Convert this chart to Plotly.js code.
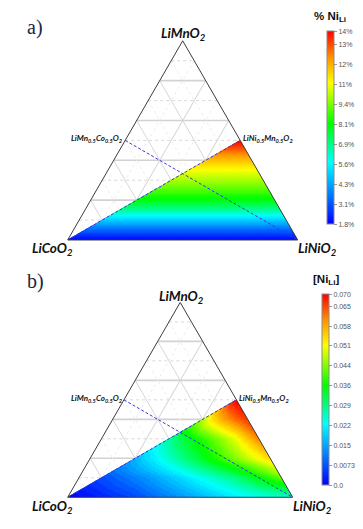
<!DOCTYPE html>
<html><head><meta charset="utf-8">
<script src="https://cdn.plot.ly/plotly-3.0.1.min.js"></script>
<style>html,body{margin:0;padding:0;background:#fff}#chart{width:363px;height:529px}</style>
</head><body><div id="chart"></div>
<script>
// ---------------- data ----------------
const vertexLabels = ['LiMnO<sub>2</sub>', 'LiCoO<sub>2</sub>', 'LiNiO<sub>2</sub>'];
const edgeLabels = ['LiMn<sub>0.5</sub>Co<sub>0.5</sub>O<sub>2</sub>', 'LiNi<sub>0.5</sub>Mn<sub>0.5</sub>O<sub>2</sub>'];
const panelLabels = ['a)', 'b)'];
const cbTitles = ['% Ni<sub>Li</sub>', '[Ni<sub>Li</sub>]'];

// panel a: % Ni_Li as a function of the LiMnO2 fraction (colour is uniform along rows)
const mnLevelsA = [0, 0.05, 0.1, 0.15, 0.2, 0.25, 0.3, 0.35, 0.4, 0.45, 0.5];
const niLiPctA  = [1.8, 3.3, 4.9, 6.6, 7.9, 8.9, 9.8, 10.6, 11.6, 12.8, 14.0];
const rangeA = [1.8, 14.0];
const tickValsA = [1.8, 3.06, 4.32, 5.59, 6.85, 8.11, 9.37, 10.64, 11.9, 13.16, 14.0];
const tickTextA = ['1.8%','3.1%','4.3%','5.6%','6.9%','8.1%','9.4%','11%','12%','13%','14%'];

// panel b: [Ni_Li] on rows of constant LiMnO2 fraction; columns = relative position t
// from the LiCoO2–LiNi0.5Mn0.5O2 line (t=0) to the Co-free edge (t=1)
const mnLevelsB = [0, 0.1, 0.2, 0.3, 0.4, 0.5];
const tLevelsB  = [0, 0.25, 0.5, 0.75, 1];
const niLiB_mn00 = [0.000, 0.005, 0.013, 0.021, 0.025];
const niLiB_mn01 = [0.0065, 0.013, 0.021, 0.029, 0.042];
const niLiB_mn02 = [0.016, 0.025, 0.034, 0.044, 0.054];
const niLiB_mn03 = [0.027, 0.035, 0.042, 0.050, 0.061];
const niLiB_mn04 = [0.046, 0.054, 0.059, 0.063, 0.066];
const niLiB_mn05 = [0.070, 0.070, 0.070, 0.070, 0.070];
const rangeB = [0, 0.070];
const tickValsB = [0, 0.00729, 0.01458, 0.02187, 0.02916, 0.03645, 0.04374, 0.05103, 0.05832, 0.06561, 0.070];
const tickTextB = ['0.0','0.0073','0.015','0.022','0.029','0.036','0.044','0.051','0.058','0.065','0.070'];

// ---------------- helpers ----------------
const gridB = [niLiB_mn00, niLiB_mn01, niLiB_mn02, niLiB_mn03, niLiB_mn04, niLiB_mn05];
const CS = [[0,[0,0,255]],[0.32,[0,255,255]],[0.52,[0,255,0]],[0.73,[255,255,0]],[0.86,[255,150,0]],[1,[255,0,0]]];
const plotlyCS = CS.map(s => [s[0], 'rgb(' + s[1].join(',') + ')']);
function csColor(f) {
  f = Math.max(0, Math.min(1, f));
  for (let i = 1; i < CS.length; i++) {
    if (f <= CS[i][0]) {
      const [f0, c0] = CS[i-1], [f1, c1] = CS[i];
      const u = (f - f0) / (f1 - f0);
      return 'rgb(' + c0.map((v, k) => Math.round(v + u * (c1[k] - v))).join(',') + ')';
    }
  }
  return 'rgb(255,0,0)';
}
function interp1(xs, ys, x) {
  if (x <= xs[0]) return ys[0];
  for (let i = 1; i < xs.length; i++) if (x <= xs[i]) {
    const u = (x - xs[i-1]) / (xs[i] - xs[i-1]); return ys[i-1] + u * (ys[i] - ys[i-1]);
  }
  return ys[ys.length - 1];
}
function valA(S, R) { return interp1(mnLevelsA, niLiPctA, 0.5 * R); }
function valB(S, R) {
  const m = 0.5 * R, t = R < 1 ? S / (1 - R) : 0;
  const rows = gridB.map(row => interp1(tLevelsB, row, t));
  return interp1(mnLevelsB, rows, m);
}
// region triangle: LiCoO2 -> LiNiO2 -> LiNi0.5Mn0.5O2 ; point (S,R): Ni=S+R/2, Mn=R/2, Co=1-S-R
function buildCells(N, fn, vr, nLev, subplot) {
  const G = Array.from({length: nLev}, () => ({a: [], b: [], c: []}));
  const push = (g, pts) => {
    pts.concat([pts[0]]).forEach(([s, r]) => {
      const S = s / N, R = r / N;
      g.a.push(0.5 * R); g.b.push(Math.max(0, 1 - S - R)); g.c.push(S + 0.5 * R);
    });
    g.a.push(null); g.b.push(null); g.c.push(null);
  };
  const lev = v => Math.max(0, Math.min(nLev - 1, Math.floor((v - vr[0]) / (vr[1] - vr[0]) * nLev)));
  for (let r = 0; r < N; r++) for (let s = 0; s < N - r; s++) {
    push(G[lev(fn((s + 1/3) / N, (r + 1/3) / N))], [[s, r], [s + 1, r], [s, r + 1]]);
    if (s + r <= N - 2) push(G[lev(fn((s + 2/3) / N, (r + 2/3) / N))], [[s + 1, r], [s + 1, r + 1], [s, r + 1]]);
  }
  return G.map((g, k) => {
    const col = csColor((k + 0.5) / nLev);
    return {type: 'scatterternary', subplot, mode: 'lines', a: g.a, b: g.b, c: g.c,
      fill: 'toself', fillcolor: col, line: {color: col, width: 0.8}, connectgaps: false,
      hoverinfo: 'skip', showlegend: false};
  }).filter(t => t.a.length);
}
function dottedGrid(subplot) {
  const h = {a: [], b: [], c: []}, d = {a: [], b: [], c: []};
  [0.1, 0.3, 0.5, 0.7, 0.9].forEach(v => {
    h.a.push(v, v, null); h.b.push(1 - v, 0, null); h.c.push(0, 1 - v, null);
    d.a.push(1 - v, 0, null); d.b.push(v, v, null); d.c.push(0, 1 - v, null);
    d.a.push(1 - v, 0, null); d.b.push(0, 1 - v, null); d.c.push(v, v, null);
  });
  const mk = (o, col) => ({type: 'scatterternary', subplot, mode: 'lines', a: o.a, b: o.b, c: o.c, connectgaps: false,
    line: {color: col, width: 1, dash: 'dot'}, hoverinfo: 'skip', showlegend: false});
  return [mk(d, '#ececec'), mk(h, '#d8d8d8')];
}
function dashedLines(subplot) {
  return {type: 'scatterternary', subplot, mode: 'lines',
    a: [0, 0.5, null, 0.5, 0], b: [1, 0, null, 0.5, 0], c: [0, 0.5, null, 0, 1], connectgaps: false,
    line: {color: '#3a3ad8', width: 1, dash: '3px,2px'}, hoverinfo: 'skip', showlegend: false};
}
function cbTrace(subplot, vr, tv, tt, yc, len, x) {
  return {type: 'scatterternary', subplot, mode: 'markers', a: [0.34, 0.34], b: [0.33, 0.33], c: [0.33, 0.33],
    marker: {color: vr, cmin: vr[0], cmax: vr[1], colorscale: plotlyCS, opacity: 0, size: 1, showscale: true,
      colorbar: {x: x / 363, xanchor: 'left', xpad: 0, ypad: 0, y: 1 - yc / 529, yanchor: 'middle',
        lenmode: 'pixels', len: len, thickness: 6.5, outlinecolor: '#8a8a8a', outlinewidth: 1,
        tickmode: 'array', tickvals: tv, ticktext: tt, ticks: 'outside', ticklen: 3, tickcolor: '#999',
        tickfont: {size: 7, color: '#555', family: 'Liberation Sans, Arial'}}},
    hoverinfo: 'skip', showlegend: false};
}
const axis = (gw, gc) => ({showticklabels: false, ticks: '', title: {text: ''}, linecolor: '#3c3c3c', linewidth: 1,
  showgrid: true, gridcolor: gc, gridwidth: gw, tick0: 0, dtick: 0.2, min: 0, layer: 'above traces'});
const tern = (dx, dy) => ({domain: {x: dx, y: dy}, sum: 1, bgcolor: 'rgba(0,0,0,0)',
  aaxis: axis(1.6, '#d2d2d2'), baxis: axis(1, '#d6d6d6'), caxis: axis(1, '#d6d6d6')});

const traces = [
  ...dottedGrid('ternary'), ...buildCells(90, valA, rangeA, 90, 'ternary'), dashedLines('ternary'),
  cbTrace('ternary', rangeA, tickValsA, tickTextA, 127.7, 193, 326.5),
  ...dottedGrid('ternary2'), ...buildCells(90, valB, rangeB, 48, 'ternary2'), dashedLines('ternary2'),
  cbTrace('ternary2', rangeB, tickValsB, tickTextB, 389.7, 191, 321.5)
];

const ann = [];
const A = (txt, x, y, size, extra) => ann.push(Object.assign({text: txt, x: x / 363, y: 1 - y / 529, xref: 'paper', yref: 'paper',
  xanchor: 'center', yanchor: 'middle', showarrow: false,
  font: {family: 'Lato, Liberation Sans, sans-serif', size: size, color: '#111'}}, extra || {}));
const BI = s => '<b><i>' + s + '</i></b>';
// panel a
A(BI(vertexLabels[0]), 183, 34, 13.5); A(BI(vertexLabels[1]), 52, 249, 13.5); A(BI(vertexLabels[2]), 317, 249, 13.5);
A(BI(edgeLabels[0]), 97, 138, 8); A(BI(edgeLabels[1]), 268, 138, 8);
A(panelLabels[0], 35, 27, 20, {font: {family: 'Liberation Serif, serif', size: 20, color: '#1b2540'}});
A('<b>' + cbTitles[0] + '</b>', 330, 17, 11.5, {font: {family: 'Liberation Sans, Arial', size: 11.5, color: '#111'}});
// panel b
A(BI(vertexLabels[0]), 181, 297, 13.5); A(BI(vertexLabels[1]), 52, 507, 13.5); A(BI(vertexLabels[2]), 312, 507, 13.5);
A(BI(edgeLabels[0]), 96, 398, 8); A(BI(edgeLabels[1]), 264, 398, 8);
A(panelLabels[1], 35, 281, 20, {font: {family: 'Liberation Serif, serif', size: 20, color: '#1b2540'}});
A('<b>' + cbTitles[1] + '</b>', 326, 280, 11.5, {font: {family: 'Liberation Sans, Arial', size: 11.5, color: '#111'}});

const layout = {
  width: 363, height: 529, margin: {l: 0, r: 0, t: 0, b: 0}, paper_bgcolor: '#fff', showlegend: false,
  ternary: tern([67.7 / 363, 297.7 / 363], [1 - 240 / 529, 1 - 40.8 / 529]),
  ternary2: tern([67.7 / 363, 292.7 / 363], [1 - 497.3 / 529, 1 - 302.4 / 529]),
  annotations: ann
};
Plotly.newPlot('chart', traces, layout, {staticPlot: true, displayModeBar: false});
</script></body></html>
